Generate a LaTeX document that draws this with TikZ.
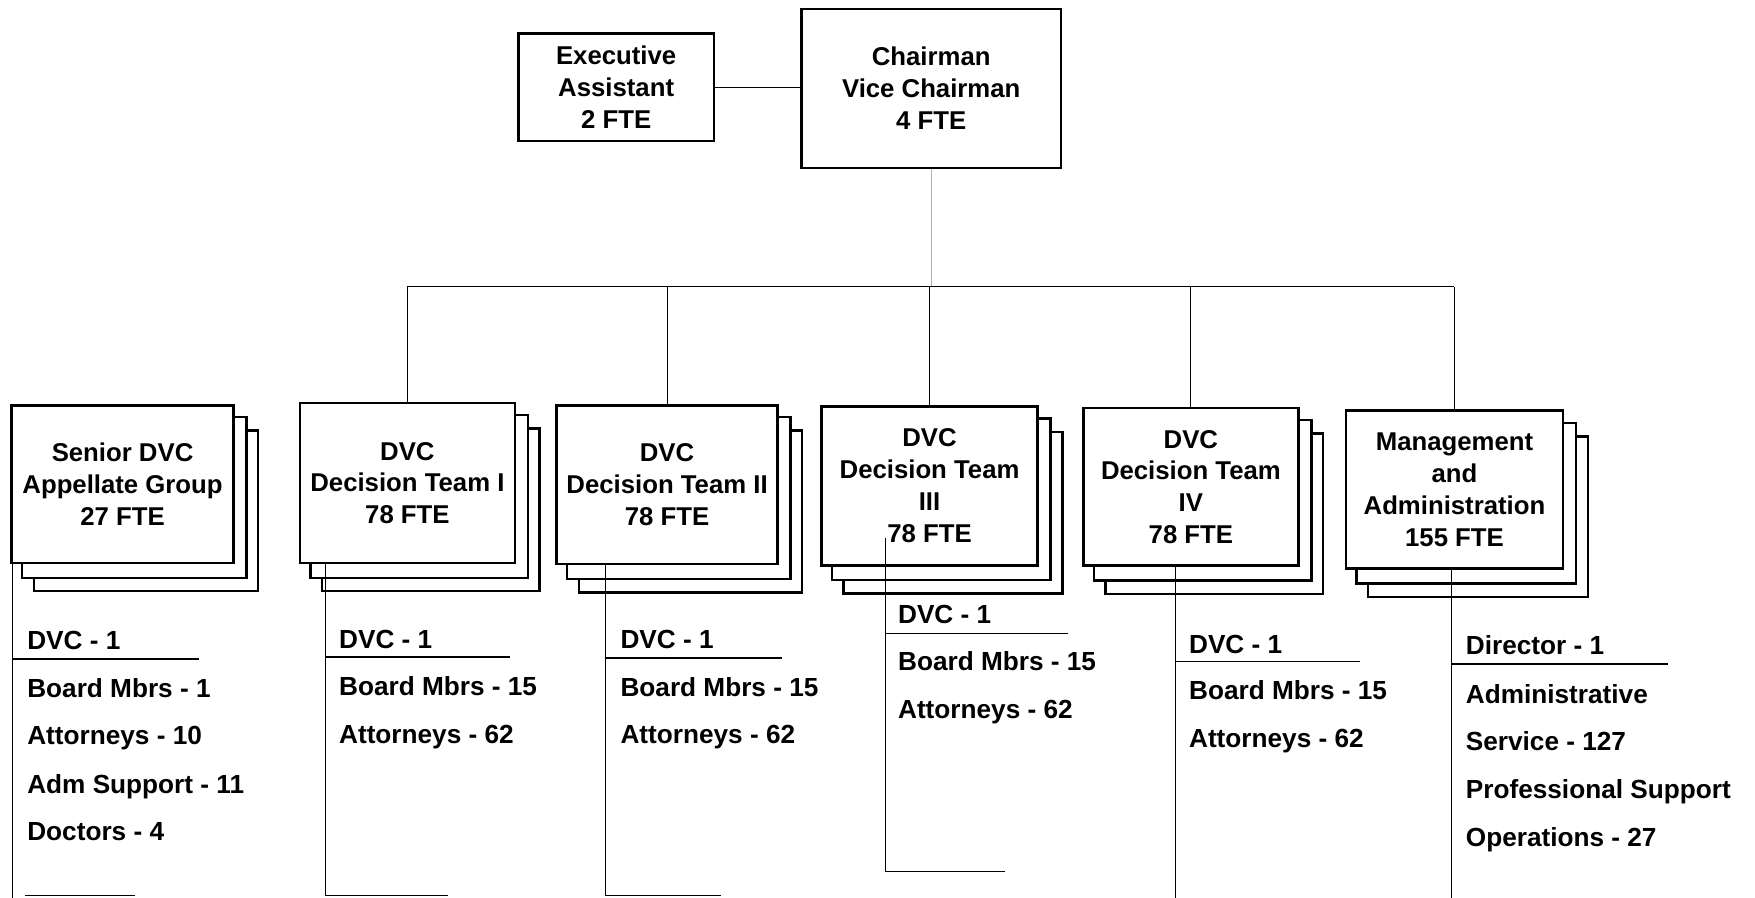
\documentclass[tikz,border=0pt]{standalone}
\usepackage{fontspec}
\setmainfont{Liberation Sans}
\pgfdeclarelayer{back}
\pgfdeclarelayer{bg}
\pgfsetlayers{back,bg,main}
\newcommand\boxshadows[1]{%
  \begin{pgfonlayer}{bg}
    \draw[shadowbox] ([shift={(21,24)}]#1.south west) rectangle ([shift={(21,24)}]#1.north east);
    \draw[shadowbox] ([shift={(10.5,12)}]#1.south west) rectangle ([shift={(10.5,12)}]#1.north east);
  \end{pgfonlayer}}
\begin{document}
\begin{tikzpicture}[x=0.5pt,y=-0.5pt,
  box/.style={draw, line width=1.2pt, fill=white, inner sep=0pt, align=center,
    font=\fontsize{11.5}{14.2}\selectfont\bfseries},
  shadowbox/.style={draw, line width=1.1pt, fill=white},
  conn/.style={line width=0.5pt},
  uline/.style={line width=0.8pt},
  item/.style={anchor=base west, inner sep=0pt, font=\fontsize{11.7}{14}\selectfont\bfseries},
]
\begin{pgfonlayer}{back}
\fill[white] (0,0) rectangle (1568,802);
\end{pgfonlayer}
\useasboundingbox (0,0) rectangle (1568,802);

% top level
\node[box, minimum width=87.5pt, minimum height=48pt] (ea) at (550.5,78) {Executive\\Assistant\\2 FTE};
\node[box, minimum width=116pt, minimum height=71pt] (ch) at (832,79) {Chairman\\Vice Chairman\\4 FTE};
\draw[conn] (ea.east) -- (ea.east -| ch.west);

% second level boxes
\node[box, minimum width=99pt, minimum height=70.5pt] (sd) at (109.5,432.5) {Senior DVC\\Appellate Group\\27 FTE};
\node[box, minimum width=96pt, minimum height=71.5pt] (t1) at (364,431.5) {DVC\\Decision Team I\\78 FTE};
\node[box, minimum width=98.5pt, minimum height=71pt] (t2) at (596,433) {DVC\\Decision Team II\\78 FTE};
\node[box, minimum width=96.5pt, minimum height=71pt] (t3) at (830.5,434) {DVC\\Decision Team\\III\\78 FTE};
\node[box, minimum width=96pt, minimum height=70.5pt] (t4) at (1064,435) {DVC\\Decision Team\\IV\\78 FTE};
\node[box, minimum width=97pt, minimum height=70.5pt] (mg) at (1299.5,437.5) {Management\\and\\Administration\\155 FTE};
\boxshadows{sd}\boxshadows{t1}\boxshadows{t2}\boxshadows{t3}\boxshadows{t4}\boxshadows{mg}

% bus
\coordinate (bus) at (0,256);
\draw[conn, black!30] (ch.south) -- (ch.south |- bus);
\draw[conn] (t1.north |- bus) -- (mg.north |- bus);
\foreach \n in {t1,t2,t3,t4,mg} \draw[conn] (\n.north) -- (\n.north |- bus);

% list lines
\coordinate (sdB) at (11.5,802);
\coordinate (t1B) at (291,800);
\coordinate (t2B) at (541,800);
\coordinate (t3T) at (791,481);
\coordinate (t3B) at (791,779);
\coordinate (t4B) at (1050,802);
\coordinate (mgB) at (1297,802);
\draw[conn] (sdB |- sd.south) -- (sdB);
\draw[conn] (t1B |- t1.south) -- (t1B) -- ++(109,0);
\draw[conn] (t2B |- t2.south) -- (t2B) -- ++(103,0);
\draw[conn] (t3T) -- (t3B) -- ++(107,0);
\draw[conn] (t4B |- t4.south) -- (t4B);
\draw[conn] (mgB |- mg.south) -- (mgB);
\draw[conn] (22,800) -- (121,800);

% underlines
\draw[uline] (11.5,589) -- (178,589);
\draw[uline] (291,587) -- (456,587);
\draw[uline] (541,588) -- (699,588);
\draw[uline] (791,566) -- (954,566);
\draw[uline] (1050,591) -- (1215,591);
\draw[uline] (1297,593.5) -- (1490,593.5);

% lists
\node[item] (sd1) at (24,580.7) {DVC - 1};
\node[item] (sd2) at (24,623) {Board Mbrs - 1};
\node[item] (sd3) at (24,665.6) {Attorneys - 10};
\node[item] (sd4) at (24,708.5) {Adm Support - 11};
\node[item] (sd5) at (24,751) {Doctors - 4};

\node[item] (a1) at (302.6,579) {DVC - 1};
\node[item] (a2) at (302.6,621.8) {Board Mbrs - 15};
\node[item] (a3) at (302.6,664) {Attorneys - 62};

\node[item] (b1) at (554,579) {DVC - 1};
\node[item] (b2) at (554,622.4) {Board Mbrs - 15};
\node[item] (b3) at (554,664.7) {Attorneys - 62};

\node[item] (c1) at (802,556.9) {DVC - 1};
\node[item] (c2) at (802,599.2) {Board Mbrs - 15};
\node[item] (c3) at (802,641.8) {Attorneys - 62};

\node[item] (d1) at (1062,583.7) {DVC - 1};
\node[item] (d2) at (1062,625.4) {Board Mbrs - 15};
\node[item] (d3) at (1062,667.6) {Attorneys - 62};

\node[item] (m1) at (1309.3,585.2) {Director - 1};
\node[item] (m2) at (1309.3,628.4) {Administrative};
\node[item] (m3) at (1309.3,670.7) {Service - 127};
\node[item] (m4) at (1309.3,713.2) {Professional Support};
\node[item] (m5) at (1309.3,756.4) {Operations - 27};
\end{tikzpicture}
\end{document}
